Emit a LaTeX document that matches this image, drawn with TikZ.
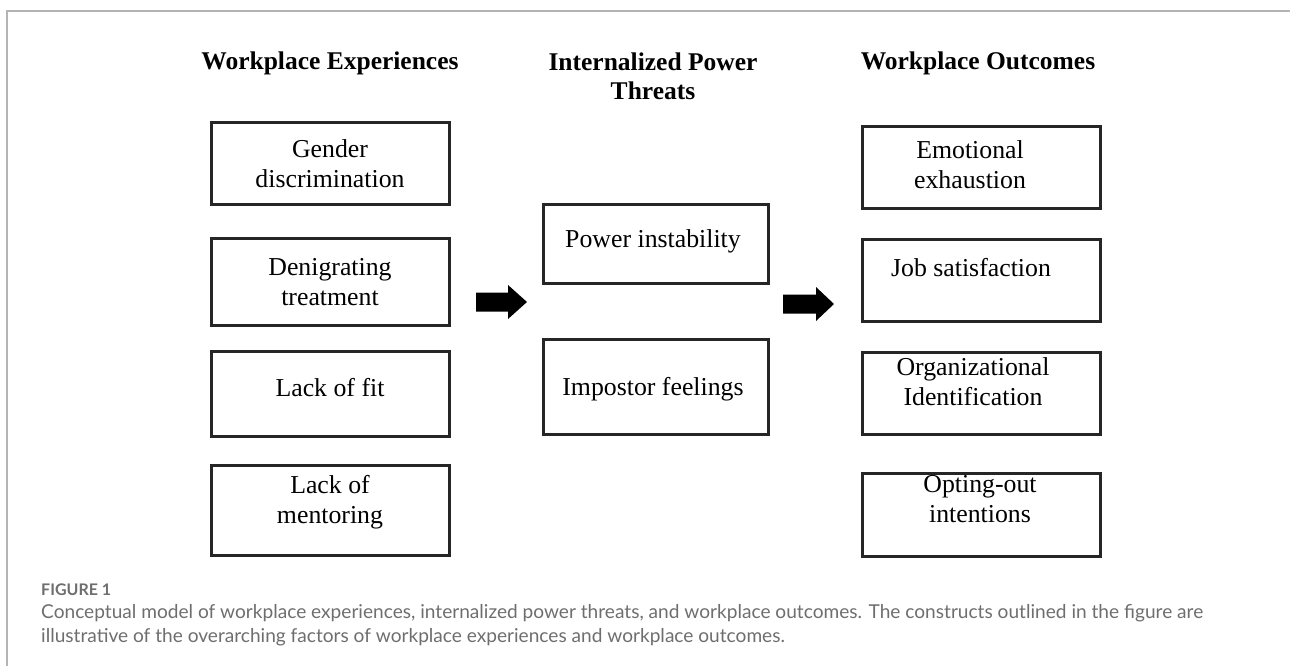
\documentclass[tikz,border=0pt]{standalone}
\usepackage{fontspec}
\setmainfont{Liberation Serif}
\newfontfamily\capfont{Lato}
\definecolor{framegray}{HTML}{B4B4B4}
\definecolor{capgray}{HTML}{6E6E6E}
\tikzset{
  box/.style={draw=black!85, line width=3pt, inner sep=0pt, anchor=north west},
  boxtext/.style={font=\fontsize{25.8}{30}\selectfont, align=center, anchor=base, inner sep=0pt},
  coltitle/.style={font=\fontsize{25.5}{29}\selectfont\bfseries, align=center, anchor=base, inner sep=0pt},
  bigarrow/.style={fill=black},
  captext/.style={font=\capfont\fontsize{19.1}{23}\selectfont, text=capgray, anchor=base west, inner sep=0pt},
}
\begin{document}
\begin{tikzpicture}[x=1pt,y=-1pt]
\useasboundingbox (0,0) rectangle (1290,666);
% page frame
\draw[framegray, line width=2pt] (7,666) -- (7,11) -- (1290,11);

% column titles
\node[coltitle] (t1) at (330,70) {Workplace Experiences};
\node[coltitle] (t2) at (653,100) {Internalized Power\\Threats};
\node[coltitle] (t3) at (978,70) {Workplace Outcomes};

% left column boxes
\node[box, minimum width=238pt, minimum height=82pt] (l1) at (210,121) {};
\node[box, minimum width=238pt, minimum height=87pt] (l2) at (210,237) {};
\node[box, minimum width=238pt, minimum height=85pt] (l3) at (210,350) {};
\node[box, minimum width=238pt, minimum height=90pt] (l4) at (210,464) {};
\node[boxtext] (l1t) at (330,187) {Gender\\discrimination};
\node[boxtext] (l2t) at (330,305) {Denigrating\\treatment};
\node[boxtext] (l3t) at (330,396) {Lack of fit};
\node[boxtext] (l4t) at (330,523) {Lack of\\mentoring};

% middle column boxes
\node[box, minimum width=225pt, minimum height=79pt] (m1) at (542,203) {};
\node[box, minimum width=225pt, minimum height=95pt] (m2) at (542,338) {};
\node[boxtext] (m1t) at (653,247) {Power instability};
\node[boxtext] (m2t) at (653,395) {Impostor feelings};

% right column boxes
\node[box, minimum width=238pt, minimum height=82pt] (r1) at (861,125) {};
\node[box, minimum width=238pt, minimum height=82pt] (r2) at (861,238) {};
\node[box, minimum width=238pt, minimum height=82pt] (r3) at (861,351) {};
\node[box, minimum width=238pt, minimum height=83pt] (r4) at (861,472) {};
\node[boxtext] (r1t) at (970,188) {Emotional\\exhaustion};
\node[boxtext] (r2t) at (971,276) {Job satisfaction};
\node[boxtext] (r3t) at (973,405) {Organizational\\Identification};
\node[boxtext] (r4t) at (980,522) {Opting-out\\intentions};

% block arrows
\coordinate (a1) at (476,302);
\coordinate (a2) at (783,304);
\fill[bigarrow] (a1) ++(0,-9.5) -- ++(32,0) -- ++(0,-7.5) -- ++(19,17) -- ++(-19,17) -- ++(0,-7.5) -- ++(-32,0) -- cycle;
\fill[bigarrow] (a2) ++(0,-9.5) -- ++(33,0) -- ++(0,-7.5) -- ++(18,17) -- ++(-18,17) -- ++(0,-7.5) -- ++(-33,0) -- cycle;

% caption
\node[captext, font=\capfont\fontsize{16}{18}\selectfont\bfseries] (fig) at (41,595) {FIGURE 1};
\node[captext] (cap1) at (41,618) {Conceptual model of workplace experiences, internalized power threats, and workplace outcomes. The constructs outlined in the figure are};
\node[captext] (cap2) at (41,642) {illustrative of the overarching factors of workplace experiences and workplace outcomes.};
\end{tikzpicture}
\end{document}
